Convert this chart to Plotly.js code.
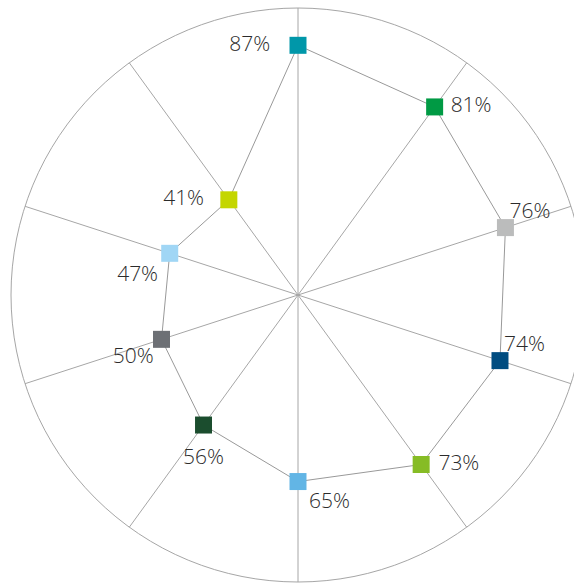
<!DOCTYPE html>
<html>
<head>
<meta charset="utf-8">
<script src="https://cdn.plot.ly/plotly-3.0.1.min.js"></script>
<style>
html,body{margin:0;padding:0;overflow:hidden;background:#fff;}
#chart{width:596px;height:583px;}
</style>
</head>
<body>
<div id="chart"></div>
<script>
// Data
var categories = ["Item 1","Item 2","Item 3","Item 4","Item 5","Item 6","Item 7","Item 8","Item 9","Item 10"];
var values = [87, 81, 76, 74, 73, 65, 56, 50, 47, 41];
var labels = ["87%","81%","76%","74%","73%","65%","56%","50%","47%","41%"];
var colors = ["#0097A9","#009A44","#BBBCBC","#004C80","#86BC25","#62B5E5","#1B4D2E","#6D7075","#A0D6F5","#C4D600"];

// Label placement styles
var labelPositions = ["middle left","middle right","top right","top right","middle right","bottom right","bottom center","bottom left","bottom left","middle left"];
var labelGap = [43, 24, 5, 5, 26, 16, 35, 11, 17, 38];

var closedTheta = categories.concat([categories[0]]);
var closedR = values.concat([values[0]]);

var traces = [
  {
    type: "scatterpolar",
    mode: "lines",
    r: closedR,
    theta: closedTheta,
    line: {color: "#999999", width: 1},
    hoverinfo: "skip",
    showlegend: false
  },
  {
    type: "scatterpolar",
    mode: "markers",
    r: values,
    theta: categories,
    marker: {symbol: "square", size: 17, color: colors, line: {width: 0}},
    showlegend: false
  },
  {
    type: "scatterpolar",
    mode: "markers+text",
    r: values,
    theta: categories,
    text: labels,
    textposition: labelPositions,
    textfont: {family: "Open Sans, sans-serif", size: 21, color: "#2b2b2b", weight: 300},
    marker: {size: labelGap, color: "rgba(0,0,0,0)", opacity: 0},
    hoverinfo: "skip",
    showlegend: false
  }
];

var layout = {
  width: 596,
  height: 583,
  margin: {l: 0, r: 0, t: 8, b: 1, pad: 0},
  paper_bgcolor: "#ffffff",
  showlegend: false,
  polar: {
    bgcolor: "#ffffff",
    domain: {x: [0, 1], y: [0, 1]},
    radialaxis: {range: [0, 100], visible: false, showgrid: false},
    angularaxis: {
      type: "category",
      categoryarray: categories,
      rotation: 90,
      direction: "clockwise",
      showticklabels: false,
      ticks: "",
      showgrid: true,
      gridcolor: "#a6a6a6",
      gridwidth: 1,
      showline: true,
      linecolor: "#a6a6a6",
      linewidth: 1
    }
  }
};

Plotly.newPlot("chart", traces, layout, {staticPlot: true, displayModeBar: false});
</script>
</body>
</html>
